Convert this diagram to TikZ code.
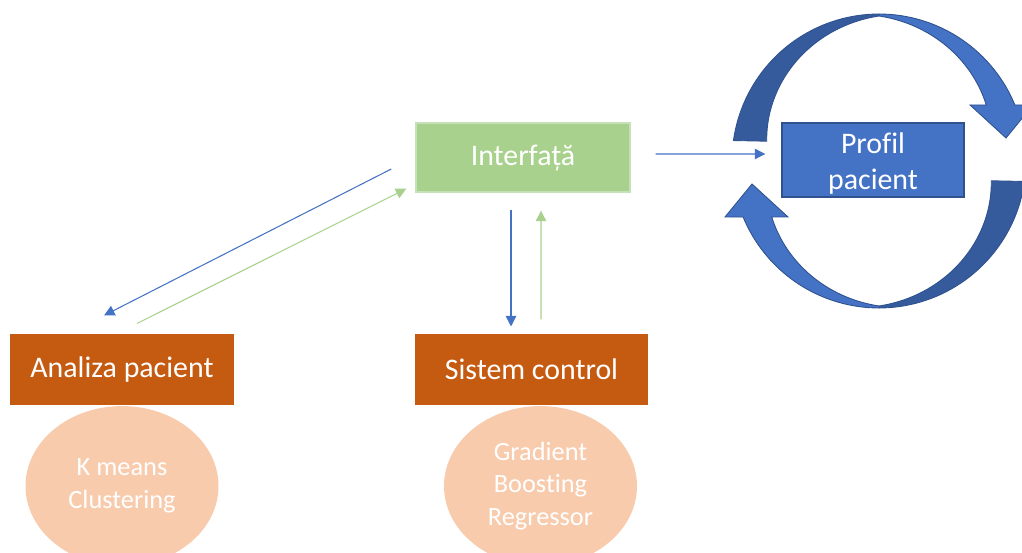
\documentclass[tikz,border=0pt]{standalone}
\usepackage{fontspec}
\setmainfont{Carlito}[Ligatures=CommonOff]
\usetikzlibrary{arrows.meta,calc,positioning,shapes}
\definecolor{boxgreen}{HTML}{A9D18E}
\definecolor{boxorange}{HTML}{C55A11}
\definecolor{peach}{HTML}{F8CBAD}
\definecolor{officeblue}{HTML}{4472C4}
\definecolor{edgeblue}{HTML}{2F528F}
\tikzset{
flow/.style={x=0.2mm,y=0.2mm,>={Triangle[length=6pt,width=6pt]},line width=0.6pt},
block/.style={rectangle,inner sep=0pt,text=white,align=center,
font=\fontsize{17}{21}\selectfont},
interface/.style={block,fill=boxgreen,draw=boxgreen!65!white,line width=0.8pt},
module/.style={block,fill=boxorange},
profile/.style={block,fill=officeblue,draw=edgeblue,line width=0.8pt},
model/.style={ellipse,inner sep=0pt,fill=peach,text=white,align=center,
minimum width=38.6mm,minimum height=32mm,font=\fontsize{15}{18.5}\selectfont},
to blue/.style={->,draw=officeblue},
to green/.style={->,draw=boxgreen},
ribbon back/.style={fill=officeblue!80!black,draw=edgeblue,line width=0.5pt},
ribbon front/.style={fill=officeblue,draw=edgeblue,line width=0.5pt},
}
\begin{document}
\begin{tikzpicture}[flow]
\useasboundingbox (0,0) rectangle (1022,552);

\node[interface,minimum width=42.8mm,minimum height=13.8mm] (interfata) at (523,394.5) {Interfață};
\node[module,minimum width=44.8mm,minimum height=14.2mm] (analiza) at (122,182.5) {Analiza pacient};
\node[module,minimum width=46.6mm,minimum height=14.2mm] (sistem) at (531.5,182.5) {Sistem control};
\node[profile,minimum width=36.4mm,minimum height=14.8mm,
  label={[text=white,align=center,font=\fontsize{17}{21}\selectfont,yshift=-0.7mm]center:Profil\\pacient}] (profil) at (873,392) {};

\node[model,below=0pt of analiza] (kmeans) {K means\\Clustering};
\node[model,below=0pt of sistem,xshift=1.8mm] (gbr) {Gradient\\Boosting\\Regressor};

% arrows between the blocks
\draw[to blue] ($(interfata.west)+(-24,-11.5)$) -- ($(analiza.north)+(-18,18)$);
\draw[to green] ($(analiza.north)+(15,10)$) -- ($(interfata.south west)+(-9,4)$);
\draw[to blue] ($(interfata.south)+(-12,-17)$) -- ($(sistem.north)+(-20.5,7)$);
\draw[to green] ($(sistem.north)+(9.5,14)$) -- ($(interfata.south)+(18,-18)$);
\draw[to blue] ($(interfata.east)+(25,3.5)$) -- ($(profil.west)+(-16,6)$);

% circular arrows round the profile
\foreach \turn in {0,180}{
\begin{scope}[rotate around={\turn:(879,391)}]
\filldraw[ribbon back] plot[domain=172:90,samples=40] ({879+147*cos(\x)},{391+147*sin(\x)})
  -- plot[domain=90:170,samples=40] ({879+(145-31*(\x-90)/80)*cos(\x)},{391+(145-31*(\x-90)/80)*sin(\x)}) -- cycle;
\filldraw[ribbon front] plot[domain=90:22.4,samples=40] ({879+147*cos(\x)},{391+147*sin(\x)})
  -- (1033,447) -- (1006,414) -- (970,447) -- (986,447)
  -- plot[domain=27.6:90,samples=40] ({879+(121+24*(\x-27.6)/62.4)*cos(\x)},{391+(121+24*(\x-27.6)/62.4)*sin(\x)}) -- cycle;
\end{scope}}
\end{tikzpicture}
\end{document}
